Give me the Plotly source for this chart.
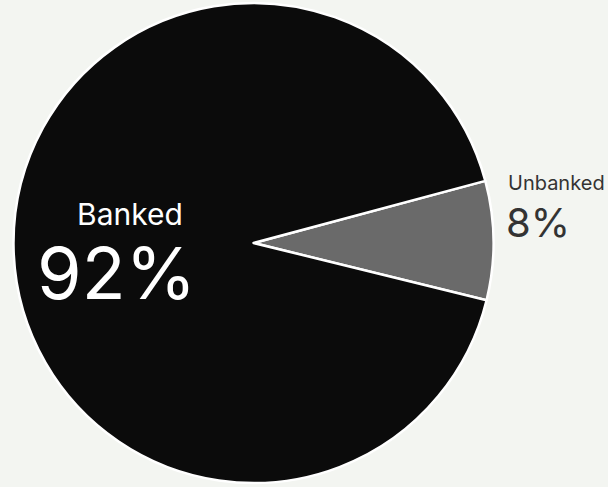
import plotly.graph_objects as go

# Share of households by banking status
labels = ["Unbanked", "Banked"]
shares = [8, 92]
colors = ["#6a6a6a", "#0b0b0b"]

W, H = 608, 487
cx, cy, r = 253.5, 243.0, 240.0

fig = go.Figure(
    go.Pie(
        labels=labels,
        values=shares,
        sort=False,
        direction="clockwise",
        rotation=75,
        marker=dict(colors=colors, line=dict(color="#ffffff", width=2.5)),
        textinfo="none",
        hoverinfo="label+percent",
        domain=dict(x=[(cx - r) / W, (cx + r) / W], y=[1 - (cy + r) / H, 1 - (cy - r) / H]),
        showlegend=False,
    )
)

font = "Inter, 'Open Sans', sans-serif"
ann = [
    dict(x=130 / W, y=1 - 214 / H, text=labels[1], font=dict(size=30, color="#ffffff", family=font)),
    dict(x=116 / W, y=1 - 272 / H, text=f"{shares[1]}%", font=dict(size=72, color="#ffffff", family=font)),
    dict(x=556 / W, y=1 - 183 / H, text=labels[0], font=dict(size=20, color="#333333", family=font)),
    dict(x=538 / W, y=1 - 223 / H, text=f"{shares[0]}%", font=dict(size=40, color="#333333", family=font)),
]
for a in ann:
    fig.add_annotation(xref="paper", yref="paper", xanchor="center", yanchor="middle",
                       showarrow=False, **a)

fig.update_layout(
    width=W, height=H,
    margin=dict(l=0, r=0, t=0, b=0),
    paper_bgcolor="#f3f5f1",
    plot_bgcolor="#f3f5f1",
)

fig.write_html("out.html")
